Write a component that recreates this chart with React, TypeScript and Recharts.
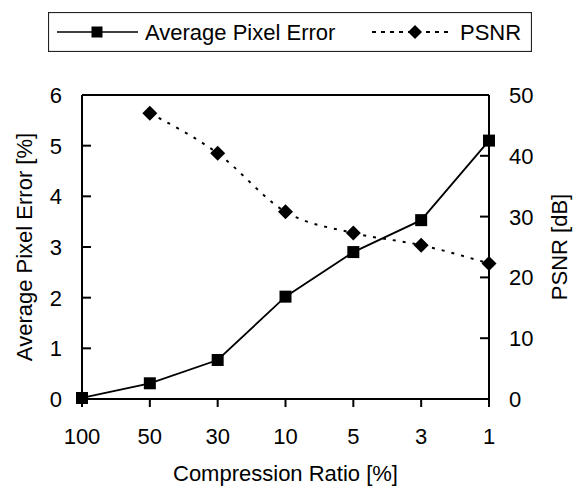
import { LineChart, Line, XAxis, YAxis, Legend, ReferenceLine } from 'recharts';

const ratios = ['100', '50', '30', '10', '5', '3', '1'];
const pixelError = [0.02, 0.31, 0.77, 2.02, 2.9, 3.53, 5.1];
const psnr = [null, 47.0, 40.4, 30.8, 27.3, 25.3, 22.3];
const leftTicks = [0, 1, 2, 3, 4, 5, 6];
const rightTicks = [0, 10, 20, 30, 40, 50];

const data = ratios.map((r, i) => ({ ratio: r, ape: pixelError[i], psnr: psnr[i] }));

const FONT = '"Liberation Sans", Arial, sans-serif';

const SquareDot = (props: any) => {
  const { cx, cy, key } = props;
  if (cx == null || cy == null) return <g key={key} />;
  return <rect key={key} x={cx - 6} y={cy - 6} width={12} height={12} fill="#000" />;
};

const DiamondDot = (props: any) => {
  const { cx, cy, key } = props;
  if (cx == null || cy == null) return <g key={key} />;
  return (
    <path
      key={key}
      d={`M${cx},${cy - 7.5}L${cx + 7.5},${cy}L${cx},${cy + 7.5}L${cx - 7.5},${cy}Z`}
      fill="#000"
    />
  );
};

// y ticks point into the plot, labels sit 20px outside the axis line
const InsideTick = (props: any) => {
  const { x, y, payload, side } = props;
  const dir = side === 'left' ? 1 : -1;
  const axisX = x + dir * 20;
  return (
    <g>
      <rect
        x={side === 'left' ? axisX : axisX - 9}
        y={y - 1}
        width={9}
        height={2}
        fill="#000"
      />
      <text
        x={x}
        y={y}
        dy="0.36em"
        textAnchor={side === 'left' ? 'end' : 'start'}
        fontSize={22}
        fill="#000"
      >
        {payload.value}
      </text>
    </g>
  );
};

// x ticks hang below the axis line
const BottomTick = (props: any) => {
  const { x, y, payload } = props;
  const axisY = y - 29;
  return (
    <g>
      <rect x={x - 1} y={axisY} width={2} height={8} fill="#000" />
      <text x={x} y={y} dy="0.71em" textAnchor="middle" fontSize={22} fill="#000">
        {payload.value}
      </text>
    </g>
  );
};

// legend drawn as one boxed row, like the original figure
const LegendBox = () => (
  <svg width={484} height={40} style={{ display: 'block' }}>
    <rect x={0.5} y={0.5} width={483} height={39} fill="#fff" stroke="#222" strokeWidth={1.2} />
    <line x1={9} x2={90} y1={20} y2={20} stroke="#000" strokeWidth={1.5} />
    <rect x={43.5} y={14.5} width={11} height={11} fill="#000" />
    <text x={97} y={28} fontSize={22} fontFamily={FONT} fill="#000">
      Average Pixel Error
    </text>
    <line x1={324} x2={404} y1={20} y2={20} stroke="#000" strokeWidth={2} strokeDasharray="4 5" />
    <path d="M367,13L374,20L367,27L360,20Z" fill="#000" />
    <text x={412} y={28} fontSize={22} fontFamily={FONT} fill="#000">
      PSNR
    </text>
  </svg>
);

export default function App() {
  return (
    <div style={{ position: 'absolute', left: 0, top: 0, fontFamily: FONT, background: '#fff' }}>
      <LineChart width={573} height={488} data={data} margin={{ top: 95, right: 0, left: 0, bottom: 0 }}>
        <XAxis
          dataKey="ratio"
          height={89}
          stroke="#000"
          strokeWidth={2}
          tickLine={false}
          tickSize={0}
          tickMargin={29}
          tick={<BottomTick />}
          label={{
            content: ({ viewBox }: any) => (
              <text
                x={viewBox.x + viewBox.width / 2}
                y={viewBox.y + 82}
                textAnchor="middle"
                fontSize={22}
                fill="#000"
              >
                Compression Ratio [%]
              </text>
            ),
          }}
        />
        <YAxis
          yAxisId="left"
          width={82}
          domain={[0, 6]}
          ticks={leftTicks}
          stroke="#000"
          strokeWidth={2}
          tickLine={false}
          tickSize={0}
          tickMargin={20}
          tick={<InsideTick side="left" />}
          label={{
            content: ({ viewBox }: any) => {
              const cx = 32;
              const cy = viewBox.y + viewBox.height / 2;
              return (
                <text
                  x={cx}
                  y={cy}
                  textAnchor="middle"
                  fontSize={22}
                  fill="#000"
                  transform={`rotate(-90 ${cx} ${cy})`}
                >
                  Average Pixel Error [%]
                </text>
              );
            },
          }}
        />
        <YAxis
          yAxisId="right"
          orientation="right"
          width={84}
          domain={[0, 50]}
          ticks={rightTicks}
          stroke="#000"
          strokeWidth={2}
          tickLine={false}
          tickSize={0}
          tickMargin={20}
          tick={<InsideTick side="right" />}
          label={{
            content: ({ viewBox }: any) => {
              const cx = viewBox.x + 78;
              const cy = viewBox.y + viewBox.height / 2;
              return (
                <text
                  x={cx}
                  y={cy}
                  textAnchor="middle"
                  fontSize={22}
                  fill="#000"
                  transform={`rotate(-90 ${cx} ${cy})`}
                >
                  PSNR [dB]
                </text>
              );
            },
          }}
        />
        <ReferenceLine yAxisId="left" y={6} stroke="#000" strokeWidth={2} />
        <Legend
          layout="horizontal"
          verticalAlign="middle"
          align="center"
          content={() => <LegendBox />}
          wrapperStyle={{ position: 'absolute', top: 12, left: 48, width: 484, height: 40 }}
        />
        <Line
          yAxisId="left"
          dataKey="ape"
          name="Average Pixel Error"
          type="linear"
          stroke="#000"
          strokeWidth={1.8}
          dot={SquareDot}
          activeDot={false}
          isAnimationActive={false}
        />
        <Line
          yAxisId="right"
          dataKey="psnr"
          name="PSNR"
          type="monotone"
          stroke="#000"
          strokeWidth={2}
          strokeDasharray="3 7"
          dot={DiamondDot}
          activeDot={false}
          isAnimationActive={false}
        />
      </LineChart>
    </div>
  );
}
